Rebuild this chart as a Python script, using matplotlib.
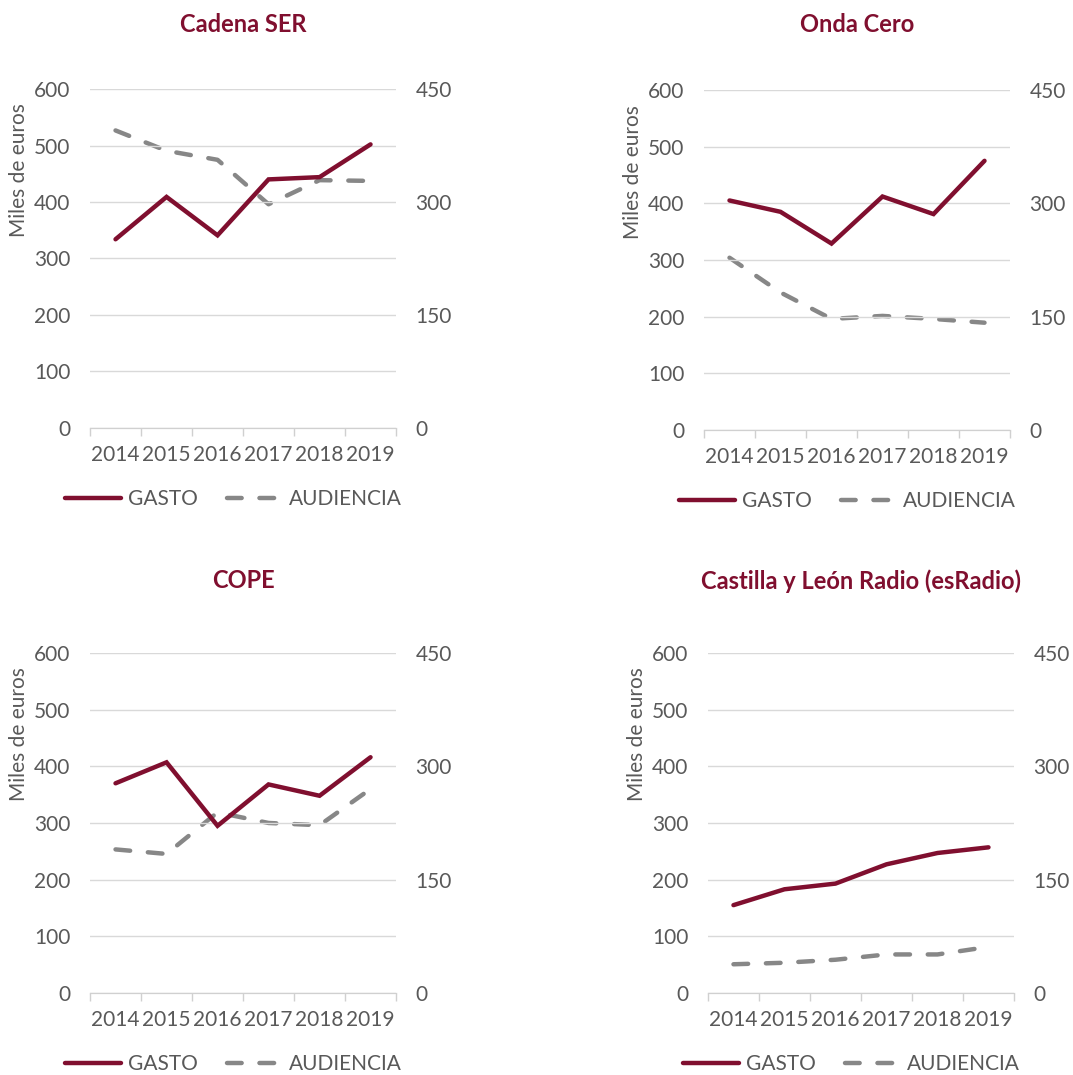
import matplotlib
matplotlib.use("Agg")
import matplotlib.pyplot as plt
import numpy as np

# datos
years = ["2014", "2015", "2016", "2017", "2018", "2019"]
titles = ["Cadena SER", "Onda Cero", "COPE", "Castilla y León Radio (esRadio)"]

gasto_ser = [334, 409, 341, 440, 444, 502]
aud_ser = [395, 368, 356, 297, 329, 328]

gasto_onda = [405, 385, 329, 412, 381, 475]
aud_onda = [228, 182, 147, 151, 147, 142]

gasto_cope = [370, 407, 295, 368, 348, 416]
aud_cope = [190, 184, 239, 225, 222, 270]

gasto_cyl = [155, 183, 193, 227, 247, 257]
aud_cyl = [38, 40, 44, 51, 51, 61]

gastos = [gasto_ser, gasto_onda, gasto_cope, gasto_cyl]
audiencias = [aud_ser, aud_onda, aud_cope, aud_cyl]

# posiciones de los paneles en fracción de figura
positions = [
    [0.0839, 0.6019, 0.2852, 0.3153],
    [0.6561, 0.6000, 0.2852, 0.3163],
    [0.0839, 0.0763, 0.2852, 0.3163],
    [0.6598, 0.0763, 0.2852, 0.3163],
]
title_pads = [41, 42, 47, 46]

rojo = "#800f2f"
gris = "#878787"
texto = "#595959"
fs = 15
plt.rcParams["font.family"] = ["Lato", "DejaVu Sans"]

fig = plt.figure(figsize=(10.73, 10.75), dpi=100)

for i in range(4):
    ax = fig.add_axes(positions[i])
    ax2 = ax.twinx()
    x = np.arange(len(years))

    l1, = ax.plot(x, gastos[i], color=rojo, lw=3.2, solid_capstyle="round",
                  solid_joinstyle="miter", label="GASTO", zorder=3)
    l2, = ax2.plot(x, audiencias[i], color=gris, lw=3.2, ls=(0, (3.3, 4)),
                   dash_capstyle="round", label="AUDIENCIA", zorder=2)
    ax.set_zorder(ax2.get_zorder() + 1)
    ax.patch.set_visible(False)

    ax.set_xlim(-0.5, len(years) - 0.5)
    ax.set_ylim(0, 600)
    ax2.set_ylim(0, 450)
    ax.set_yticks(range(0, 601, 100))
    ax2.set_yticks(range(0, 451, 150))

    ax.set_xticks(np.arange(-0.5, len(years), 1.0))
    ax.set_xticklabels([])
    ax.set_xticks(x, minor=True)
    ax.set_xticklabels(years, minor=True)
    ax.tick_params(axis="x", which="major", length=6, color="#d0d0d0", width=1)
    ax.tick_params(axis="x", which="minor", length=0, pad=12,
                   labelsize=fs, labelcolor=texto)
    ax.tick_params(axis="y", length=0, pad=14, labelsize=fs, labelcolor=texto)
    ax2.tick_params(axis="y", length=0, pad=14, labelsize=fs, labelcolor=texto)

    ax.grid(axis="y", color="#d9d9d9", lw=1)
    ax.set_axisbelow(True)
    for a in (ax, ax2):
        for s in ["top", "left", "right"]:
            a.spines[s].set_visible(False)
        a.spines["bottom"].set_color("#d0d0d0")

    ax.set_ylabel("Miles de euros", fontsize=fs, color=texto)
    ax.yaxis.set_label_coords(-0.2, 0.76)

    ax.set_title(titles[i], fontsize=17, fontweight="bold", color=rojo,
                 pad=title_pads[i])

    ax.legend([l1, l2], ["GASTO", "AUDIENCIA"], loc="center",
              bbox_to_anchor=(0.47, -0.21), ncol=2, frameon=False,
              fontsize=fs, labelcolor=texto, handlelength=2.65,
              columnspacing=1.4, handletextpad=0.35)

fig.savefig("out.png", dpi=100)
